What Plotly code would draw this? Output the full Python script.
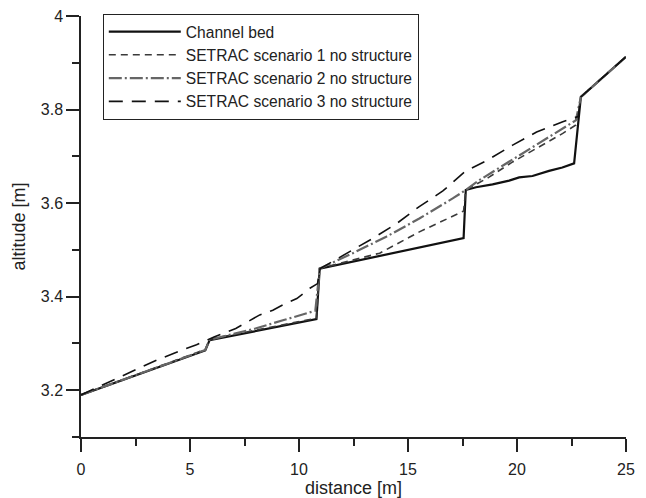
import plotly.graph_objects as go

# Channel bed
bed_x = [0, 5.7, 5.9, 10.8, 10.95, 17.55, 17.65, 18.12, 18.88, 19.64, 20.1, 20.71, 21.47, 22.08, 22.62, 22.93, 25]
bed_y = [3.19, 3.285, 3.307, 3.352, 3.46, 3.525, 3.628, 3.634, 3.640, 3.648, 3.655, 3.658, 3.669, 3.676, 3.685, 3.827, 3.913]

# SETRAC scenario 1 no structure
sc1_x = [0, 5.7, 5.9, 10.8, 10.95, 12.5, 13.7, 15.5, 17.05, 17.55, 17.65, 18.7, 19.8, 21.0, 22.1, 22.7, 22.93, 25]
sc1_y = [3.19, 3.287, 3.309, 3.354, 3.46, 3.478, 3.493, 3.538, 3.571, 3.583, 3.628, 3.655, 3.688, 3.72, 3.749, 3.767, 3.827, 3.913]

# SETRAC scenario 2 no structure
sc2_x = [0, 5.7, 5.9, 7.0, 8.0, 9.3, 10.75, 10.95, 12.47, 14.0, 15.52, 17.05, 17.65, 18.27, 20.4, 21.78, 22.7, 22.93, 25]
sc2_y = [3.19, 3.286, 3.308, 3.32, 3.332, 3.35, 3.37, 3.46, 3.493, 3.528, 3.567, 3.61, 3.628, 3.649, 3.71, 3.749, 3.777, 3.827, 3.913]

# SETRAC scenario 3 no structure
sc3_x = [0, 1.2, 3.5, 4.7, 5.3, 6.1, 7.1, 8.2, 8.8, 9.4, 9.9, 10.5, 10.85, 10.97, 12.3, 13.4, 14.5, 15.5, 16.6, 17.6, 18.65, 19.8, 20.9, 22.1, 22.8, 22.93, 25]
sc3_y = [3.19, 3.216, 3.265, 3.287, 3.297, 3.314, 3.332, 3.361, 3.371, 3.386, 3.396, 3.418, 3.428, 3.46, 3.496, 3.525, 3.557, 3.592, 3.626, 3.667, 3.692, 3.724, 3.752, 3.774, 3.785, 3.827, 3.913]

names = ["Channel bed", "SETRAC scenario 1 no structure",
         "SETRAC scenario 2 no structure", "SETRAC scenario 3 no structure"]

fig = go.Figure()
fig.add_trace(go.Scatter(x=bed_x, y=bed_y, mode="lines", name=names[0],
                         line=dict(color="#111111", width=2.2)))
fig.add_trace(go.Scatter(x=sc1_x, y=sc1_y, mode="lines", name=names[1],
                         line=dict(color="#3a3a3a", width=1.6, dash="7px,5px")))
fig.add_trace(go.Scatter(x=sc2_x, y=sc2_y, mode="lines", name=names[2],
                         line=dict(color="#666666", width=2.2, dash="13px,3px,2px,3px")))
fig.add_trace(go.Scatter(x=sc3_x, y=sc3_y, mode="lines", name=names[3],
                         line=dict(color="#111111", width=1.6, dash="14px,9px")))

axis_common = dict(
    showline=True, linecolor="#222222", linewidth=1.5, mirror=False,
    showgrid=False, zeroline=False, automargin=False,
    ticks="outside", ticklen=13, tickwidth=1.5, tickcolor="#222222",
    tickfont=dict(size=16, color="#222222"),
)

fig.update_layout(
    width=646, height=498,
    margin=dict(l=81, r=20, t=16, b=61),
    paper_bgcolor="white", plot_bgcolor="white",
    font=dict(family="Liberation Sans, Arial, sans-serif", color="#222222"),
    xaxis=dict(range=[0, 25], tick0=0, dtick=5, ticklabelstandoff=4,
               minor=dict(ticks="outside", ticklen=7, dtick=2.5, tickwidth=1.5, tickcolor="#222222"),
               title=dict(text="distance [m]", font=dict(size=18), standoff=2),
               **axis_common),
    yaxis=dict(range=[3.1, 4.0], tick0=3.2, dtick=0.2, tickformat="~g",
               minor=dict(ticks="outside", ticklen=7, dtick=0.1, tickwidth=1.5, tickcolor="#222222"),
               title=dict(text="altitude [m]", font=dict(size=18), standoff=10),
               **axis_common),
    legend=dict(x=0.04, y=1.005, xanchor="left", yanchor="top",
                bordercolor="#222222", borderwidth=1, bgcolor="white",
                font=dict(size=15.6, color="#222222"), itemwidth=72,
                traceorder="normal"),
    showlegend=True,
)

fig.write_html("out.html")
